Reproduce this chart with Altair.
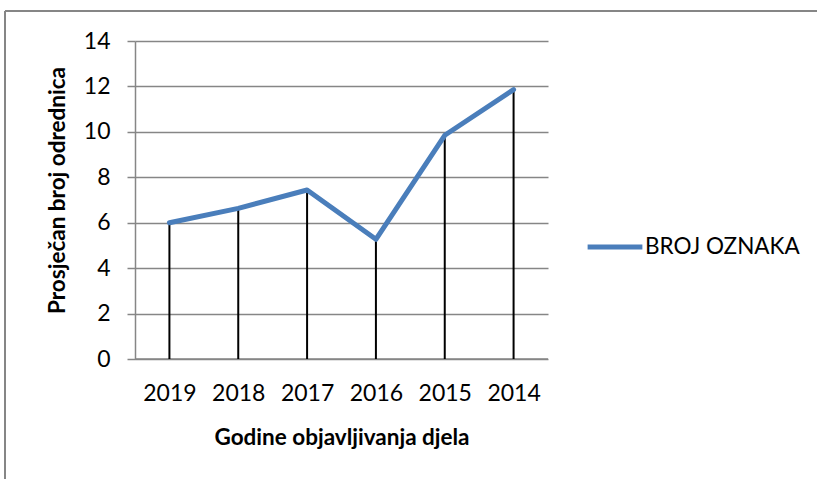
import altair as alt
import pandas as pd

years = ["2019", "2018", "2017", "2016", "2015", "2014"]
values = [6.0, 6.63, 7.44, 5.27, 9.85, 11.86]
series_name = "BROJ OZNAKA"
y_ticks = [0, 2, 4, 6, 8, 10, 12, 14]

df = pd.DataFrame({"year": years, "value": values, "series": [series_name] * len(years)})

FONT = "Lato"
GRID = "#868686"
BLUE = "#4A7EBB"

x_enc = alt.X(
    "year:N",
    sort=years,
    scale=alt.Scale(type="point", padding=0.5),
    axis=alt.Axis(
        title="Godine objavljivanja djela",
        labelAngle=0,
        labelFont=FONT,
        labelFontSize=23,
        labelColor="#000000",
        labelPadding=23,
        ticks=False,
        domain=False,
        grid=False,
        titleFont=FONT,
        titleFontSize=22.5,
        titleFontWeight="bold",
        titleColor="#000000",
        titlePadding=21,
    ),
)

y_enc = alt.Y(
    "value:Q",
    scale=alt.Scale(domain=[0, 14], nice=False, zero=True),
    axis=alt.Axis(
        title="Prosječan broj odrednica",
        values=y_ticks,
        labelFont=FONT,
        labelFontSize=23,
        labelColor="#000000",
        labelPadding=17,
        tickSize=8,
        tickColor=GRID,
        tickWidth=1.5,
        domainColor=GRID,
        domainWidth=1.5,
        gridColor=GRID,
        gridWidth=1.5,
        titleFont=FONT,
        titleFontSize=22.5,
        titleFontWeight="bold",
        titleColor="#000000",
        titlePadding=14,
        titleY=149,
    ),
)

base = alt.Chart(df)

drops = base.mark_rule(color="#000000", strokeWidth=2).encode(
    x=x_enc,
    y=y_enc,
    y2=alt.datum(0),
)

line = base.mark_line(strokeWidth=5, strokeJoin="round", strokeCap="round").encode(
    x=x_enc,
    y=y_enc,
    color=alt.Color(
        "series:N",
        scale=alt.Scale(range=[BLUE]),
        legend=alt.Legend(
            title=None,
            orient="none",
            legendX=450,
            legendY=176,
            symbolType="stroke",
            symbolSize=3000,
            symbolStrokeWidth=5,
            symbolStrokeColor=BLUE,
            labelFont=FONT,
            labelFontSize=22.5,
            labelColor="#000000",
            labelOffset=0,
        ),
    ),
)

# x-axis baseline (gray) drawn as a rule at value 0
baseline = alt.Chart(pd.DataFrame({"v": [0]})).mark_rule(color=GRID, strokeWidth=1.5).encode(
    y=alt.Y("v:Q", scale=alt.Scale(domain=[0, 14])),
    x=alt.value(0),
    x2=alt.value(413),
)

frame_left = alt.Chart(pd.DataFrame({"a": [0]})).mark_rule(color=GRID, strokeWidth=2).encode(
    x=alt.value(-130), y=alt.value(-30), y2=alt.value(460)
)
frame_top = alt.Chart(pd.DataFrame({"a": [0]})).mark_rule(color=GRID, strokeWidth=2).encode(
    x=alt.value(-130), x2=alt.value(700), y=alt.value(-30)
)

chart = (
    alt.layer(frame_left, frame_top, baseline, drops, line)
    .properties(
        width=413,
        height=318,
        autosize=alt.AutoSizeParams(type="none"),
        padding={"left": 135, "top": 41, "right": 269, "bottom": 120},
        background="#ffffff",
    )
    .configure_view(stroke=None)
)

chart.save("out.html", embed_options={"renderer": "svg", "actions": False})
